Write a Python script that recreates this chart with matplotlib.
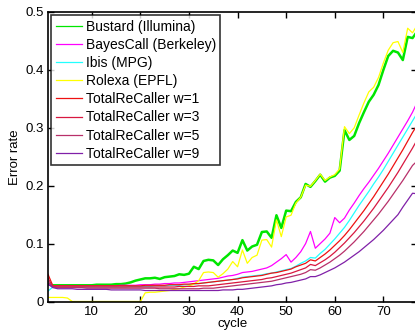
import matplotlib
matplotlib.use("Agg")
import matplotlib.pyplot as plt
import numpy as np

plt.rcParams["font.family"] = ["Liberation Sans", "DejaVu Sans"]

cycles = np.arange(1, 78)

bustard = [
    0.030, 0.028, 0.028, 0.028, 0.028, 0.028, 0.028, 0.028, 0.028, 0.028,
    0.029, 0.029, 0.029, 0.029, 0.030, 0.030, 0.031, 0.033, 0.036, 0.038,
    0.040, 0.040, 0.041, 0.039, 0.042, 0.043, 0.044, 0.047, 0.046, 0.048,
    0.060, 0.056, 0.070, 0.072, 0.071, 0.063, 0.073, 0.080, 0.088, 0.084,
    0.106, 0.088, 0.095, 0.098, 0.120, 0.121, 0.110, 0.149, 0.127, 0.157,
    0.156, 0.172, 0.180, 0.203, 0.198, 0.208, 0.219, 0.207, 0.214, 0.217,
    0.226, 0.296, 0.279, 0.286, 0.308, 0.327, 0.345, 0.357, 0.374, 0.400,
    0.424, 0.433, 0.430, 0.417, 0.457, 0.455, 0.467,
]
bayescall = [
    0.030, 0.027, 0.027, 0.027, 0.027, 0.027, 0.027, 0.027, 0.027, 0.027,
    0.027, 0.027, 0.027, 0.027, 0.027, 0.028, 0.028, 0.028, 0.028, 0.029,
    0.029, 0.029, 0.030, 0.030, 0.031, 0.031, 0.032, 0.032, 0.033, 0.034,
    0.035, 0.036, 0.037, 0.038, 0.039, 0.040, 0.042, 0.044, 0.045, 0.047,
    0.050, 0.051, 0.052, 0.054, 0.056, 0.058, 0.062, 0.068, 0.074, 0.081,
    0.068, 0.076, 0.086, 0.100, 0.121, 0.092, 0.100, 0.108, 0.118, 0.145,
    0.136, 0.144, 0.158, 0.170, 0.183, 0.195, 0.206, 0.218, 0.230, 0.243,
    0.256, 0.270, 0.284, 0.298, 0.312, 0.327, 0.345,
]
ibis = [
    0.018, 0.025, 0.025, 0.025, 0.025, 0.025, 0.025, 0.025, 0.025, 0.025,
    0.025, 0.025, 0.025, 0.025, 0.025, 0.025, 0.025, 0.026, 0.026, 0.026,
    0.026, 0.026, 0.027, 0.027, 0.027, 0.028, 0.028, 0.028, 0.029, 0.029,
    0.030, 0.031, 0.032, 0.033, 0.034, 0.035, 0.036, 0.037, 0.038, 0.040,
    0.042, 0.043, 0.044, 0.045, 0.046, 0.048, 0.049, 0.051, 0.053, 0.055,
    0.057, 0.061, 0.066, 0.070, 0.076, 0.075, 0.083, 0.090, 0.099, 0.108,
    0.118, 0.128, 0.140, 0.153, 0.166, 0.178, 0.190, 0.203, 0.215, 0.228,
    0.242, 0.256, 0.270, 0.284, 0.298, 0.312, 0.326,
]
rolexa = [
    0.007, 0.007, 0.007, 0.007, 0.006, 0.0, 0.0, 0.0, 0.0, 0.0,
    0.0, 0.0, 0.0, 0.0, 0.0, 0.0, 0.0, 0.0, 0.0, 0.0,
    0.015, 0.016, 0.016, 0.017, 0.018, 0.019, 0.021, 0.022, 0.025, 0.027,
    0.030, 0.036, 0.050, 0.051, 0.050, 0.042, 0.048, 0.056, 0.069, 0.060,
    0.089, 0.066, 0.076, 0.080, 0.106, 0.107, 0.094, 0.141, 0.112, 0.146,
    0.149, 0.170, 0.180, 0.201, 0.199, 0.209, 0.220, 0.209, 0.215, 0.219,
    0.229, 0.302, 0.290, 0.300, 0.322, 0.343, 0.362, 0.370, 0.387, 0.412,
    0.434, 0.447, 0.449, 0.430, 0.472, 0.464, 0.478,
]
trc_w1 = [
    0.047, 0.027, 0.027, 0.027, 0.027, 0.027, 0.027, 0.027, 0.027, 0.027,
    0.027, 0.027, 0.027, 0.027, 0.027, 0.027, 0.027, 0.027, 0.027, 0.027,
    0.028, 0.028, 0.028, 0.028, 0.028, 0.029, 0.029, 0.029, 0.030, 0.030,
    0.031, 0.031, 0.032, 0.033, 0.034, 0.035, 0.036, 0.037, 0.038, 0.039,
    0.041, 0.042, 0.043, 0.044, 0.045, 0.047, 0.049, 0.050, 0.052, 0.054,
    0.056, 0.060, 0.063, 0.066, 0.072, 0.070, 0.076, 0.082, 0.089, 0.097,
    0.105, 0.114, 0.124, 0.135, 0.146, 0.157, 0.169, 0.181, 0.194, 0.207,
    0.220, 0.234, 0.248, 0.262, 0.277, 0.292, 0.305,
]
trc_w3 = [
    0.040, 0.026, 0.025, 0.025, 0.025, 0.025, 0.025, 0.025, 0.025, 0.025,
    0.025, 0.025, 0.025, 0.025, 0.025, 0.025, 0.025, 0.025, 0.025, 0.025,
    0.025, 0.025, 0.025, 0.025, 0.025, 0.025, 0.025, 0.026, 0.026, 0.026,
    0.026, 0.027, 0.027, 0.027, 0.028, 0.029, 0.030, 0.031, 0.032, 0.033,
    0.034, 0.035, 0.036, 0.037, 0.038, 0.040, 0.041, 0.043, 0.045, 0.047,
    0.049, 0.052, 0.055, 0.058, 0.064, 0.062, 0.067, 0.072, 0.078, 0.085,
    0.093, 0.101, 0.110, 0.119, 0.129, 0.139, 0.150, 0.161, 0.173, 0.185,
    0.197, 0.210, 0.223, 0.237, 0.251, 0.265, 0.280,
]
trc_w5 = [
    0.035, 0.025, 0.024, 0.024, 0.024, 0.024, 0.024, 0.024, 0.023, 0.023,
    0.023, 0.023, 0.023, 0.023, 0.023, 0.023, 0.023, 0.023, 0.023, 0.023,
    0.023, 0.023, 0.023, 0.022, 0.022, 0.022, 0.022, 0.022, 0.022, 0.022,
    0.022, 0.022, 0.023, 0.023, 0.023, 0.024, 0.025, 0.026, 0.027, 0.028,
    0.029, 0.030, 0.031, 0.032, 0.033, 0.034, 0.035, 0.037, 0.039, 0.041,
    0.043, 0.045, 0.047, 0.050, 0.055, 0.054, 0.058, 0.063, 0.068, 0.074,
    0.080, 0.087, 0.095, 0.103, 0.112, 0.121, 0.131, 0.141, 0.151, 0.162,
    0.173, 0.185, 0.197, 0.209, 0.222, 0.235, 0.243,
]
trc_w9 = [
    0.030, 0.024, 0.022, 0.022, 0.022, 0.022, 0.021, 0.021, 0.021, 0.021,
    0.021, 0.021, 0.021, 0.020, 0.020, 0.020, 0.020, 0.020, 0.020, 0.020,
    0.019, 0.019, 0.019, 0.019, 0.019, 0.019, 0.019, 0.019, 0.019, 0.019,
    0.019, 0.019, 0.019, 0.019, 0.019, 0.019, 0.020, 0.020, 0.020, 0.021,
    0.021, 0.022, 0.023, 0.024, 0.025, 0.026, 0.027, 0.029, 0.030, 0.032,
    0.033, 0.035, 0.037, 0.039, 0.043, 0.043, 0.046, 0.050, 0.054, 0.058,
    0.063, 0.068, 0.074, 0.080, 0.086, 0.093, 0.100, 0.107, 0.115, 0.123,
    0.132, 0.141, 0.150, 0.163, 0.175, 0.187, 0.186,
]

series = [
    ("Bustard (Illumina)", bustard, "#00e600", 1.8),
    ("BayesCall (Berkeley)", bayescall, "#ff00ff", 0.9),
    ("Ibis (MPG)", ibis, "#22ffff", 0.9),
    ("Rolexa (EPFL)", rolexa, "#ffff00", 0.9),
    ("TotalReCaller w=1", trc_w1, "#ee1111", 0.9),
    ("TotalReCaller w=3", trc_w3, "#d81840", 0.9),
    ("TotalReCaller w=5", trc_w5, "#b8306a", 0.9),
    ("TotalReCaller w=9", trc_w9, "#8020a8", 0.9),
]

fig = plt.figure(figsize=(4.15, 3.35), dpi=100)
ax = fig.add_axes([48 / 415, 33.5 / 335, 369.4 / 415, 289.5 / 335])

for label, vals, color, lw in series:
    ax.plot(cycles, vals, color=color, lw=lw, label=label)

ax.set_xlim(1, 77)
ax.set_ylim(0, 0.5)
ax.set_xticks([10, 20, 30, 40, 50, 60, 70])
ax.set_yticks([0, 0.1, 0.2, 0.3, 0.4, 0.5])
ax.set_yticklabels(["0", "0.1", "0.2", "0.3", "0.4", "0.5"])
ax.tick_params(direction="in", top=True, right=True, length=4, width=1,
               labelsize=9.5, pad=3)
for sp in ax.spines.values():
    sp.set_linewidth(1.2)
ax.set_xlabel("cycle", fontsize=9.5, labelpad=0)
ax.set_ylabel("Error rate", fontsize=9.5, labelpad=3)

leg = ax.legend(loc="upper left", fontsize=10, frameon=True, fancybox=False,
                handlelength=1.9, handletextpad=0.25, borderpad=0.3,
                labelspacing=0.3, borderaxespad=0.25, edgecolor="black")
leg.get_frame().set_linewidth(1.2)
# legend keys are all drawn thin in the original
for h in leg.get_lines():
    h.set_linewidth(0.9)

fig.savefig("out.png", dpi=100)
